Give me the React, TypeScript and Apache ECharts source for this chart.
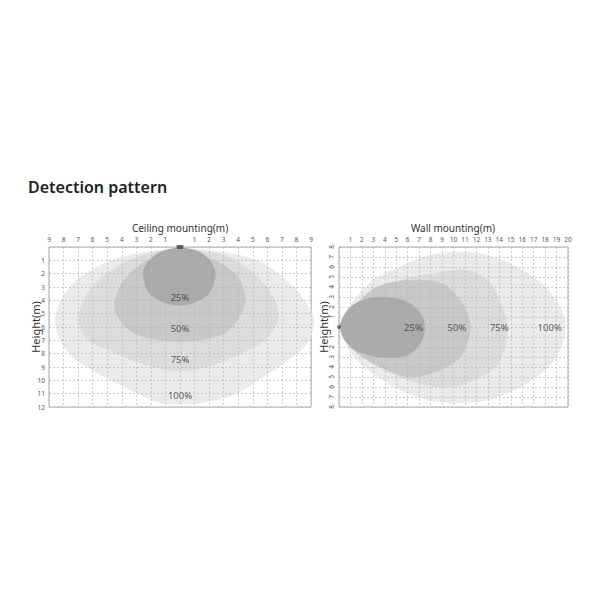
import React, { useEffect, useRef } from "react";
import * as echarts from "echarts";

// Ceiling mounting contours: [x (m), depth (m)]
const ceilingLevels = ["100%", "75%", "50%", "25%"];
const ceiling100: number[][] = [
  [0, 0.15], [2.5, 0.3], [5.5, 1.1], [7.8, 3.0], [9.0, 4.8], [9.2, 5.9], [8.7, 7.3],
  [7.3, 8.6], [5.5, 9.9], [3.7, 11.1], [1.5, 11.7], [0, 11.8], [-1.4, 11.7],
  [-2.9, 11.0], [-4.8, 10.0], [-6.4, 9.0], [-7.6, 8.0], [-8.4, 6.6], [-8.5, 4.9],
  [-7.6, 3.0], [-5.9, 1.6], [-3.5, 0.6],
];
const ceiling75: number[][] = [
  [0, 0.2], [1.8, 0.35], [3.7, 0.9], [5.9, 2.9], [6.8, 5.2], [5.9, 6.9], [4.4, 7.9],
  [2.2, 8.9], [0, 9.3], [-2.2, 8.9], [-4.6, 7.9], [-6.6, 6.7], [-6.9, 4.9],
  [-6.0, 2.9], [-3.7, 1.1], [-1.4, 0.3],
];
const ceiling50: number[][] = [
  [0, 0.3], [2.0, 0.8], [3.7, 1.9], [4.5, 3.7], [4.1, 5.2], [3.2, 6.4], [1.6, 6.95],
  [0, 7.1], [-1.6, 6.95], [-3.3, 6.4], [-4.3, 5.2], [-4.5, 4.1], [-3.8, 2.4],
  [-2.1, 0.9],
];
const ceiling25: number[][] = [
  [0, 0.05], [1.4, 0.4], [2.3, 1.4], [2.4, 2.4], [1.8, 3.7], [0, 4.4], [-1.9, 3.7],
  [-2.5, 2.4], [-2.4, 1.4], [-1.4, 0.4],
];
const ceilingLabelX = [0, 0, 0, 0];
const ceilingLabelY = [11.1, 8.4, 6.1, 3.8];

// Wall mounting contours: [distance (m), height (m)]
const wallLevels = ["100%", "75%", "50%", "25%"];
const wall100: number[][] = [
  [0.1, 0], [0.4, 1.2], [1.8, 3.4], [3.2, 4.9], [5.1, 5.9], [7.1, 6.9], [9.7, 7.5],
  [13.0, 7.2], [16.5, 5.4], [18.8, 3.0], [19.8, 0], [18.8, -3.3], [16.5, -5.6],
  [13.0, -7.3], [9.7, -7.6], [6.8, -7.0], [4.2, -5.6], [1.8, -3.6], [0.4, -1.3],
];
const wall75: number[][] = [
  [0.1, 0], [0.7, 1.4], [2.4, 3.0], [5.4, 4.7], [8.3, 5.4], [11.2, 5.7], [13.0, 4.7],
  [13.9, 3.0], [14.7, 0], [14.1, -3.3], [12.4, -5.0], [9.7, -6.0], [6.8, -5.6],
  [3.9, -4.3], [1.6, -2.6], [0.4, -1.0],
];
const wall50: number[][] = [
  [0.1, 0], [1.3, 2.0], [3.3, 4.0], [6.2, 4.7], [8.9, 4.4], [10.6, 2.7], [11.5, 0],
  [10.6, -3.0], [8.9, -4.3], [6.2, -5.0], [3.6, -4.0], [1.3, -2.3],
];
const wall25: number[][] = [
  [0.1, 0], [1.0, 2.0], [2.7, 2.9], [4.2, 3.0], [6.0, 2.5], [7.1, 1.4], [7.5, 0],
  [7.1, -1.7], [6.0, -2.8], [4.2, -3.1], [2.5, -2.8], [1.0, -2.0],
];
const wallLabelX = [18.4, 14.0, 10.3, 6.5];
const wallLabelY = [0, 0, 0, 0];

const ceilingContours = [ceiling100, ceiling75, ceiling50, ceiling25];
const wallContours = [wall100, wall75, wall50, wall25];
const fills = ["#ebebeb", "#dcdcdc", "#c8c8c8", "#aaaaaa"];

const FONT = "Noto Sans";

function contourSeries(contours: number[][][], axisIndex: number) {
  return contours.map((pts, i) => ({
    type: "custom",
    xAxisIndex: axisIndex,
    yAxisIndex: axisIndex,
    z: 2 + i * 0.01,
    silent: true,
    data: [[pts[0][0], pts[0][1]]],
    renderItem: (_params: any, api: any) => ({
      type: "polygon",
      shape: { points: pts.map((p) => api.coord(p)), smooth: 0.35 },
      style: { fill: fills[i], stroke: "none" },
    }),
  }));
}

export default function App() {
  const ref = useRef<HTMLDivElement>(null);
  useEffect(() => {
    if (!ref.current) return;
    const chart = echarts.init(ref.current, undefined, { renderer: "svg" });
    const splitLine = {
      show: true,
      lineStyle: { color: "#b5b5b5", type: [2, 2] as any, width: 0.7 },
    };
    const tickLabel = { fontSize: 6.5, color: "#555", fontFamily: FONT };
    const nameStyle = { fontSize: 11, color: "#333", fontFamily: FONT };
    const option: any = {
      animation: false,
      backgroundColor: "#fff",
      grid: [
        { left: 49, top: 247, width: 262, height: 160, show: true, borderColor: "#aaa", borderWidth: 1, backgroundColor: "transparent" },
        { left: 339, top: 247, width: 229, height: 160, show: true, borderColor: "#aaa", borderWidth: 1, backgroundColor: "transparent" },
      ],
      xAxis: [
        {
          type: "value", gridIndex: 0, position: "top", min: -9, max: 9, interval: 1, z: 5,
          axisLine: { show: false }, axisTick: { show: false }, splitLine,
          axisLabel: { ...tickLabel, margin: 4, formatter: (v: number) => (v === 0 ? "" : String(Math.abs(v))) },
        },
        {
          type: "value", gridIndex: 1, position: "top", min: 0, max: 20, interval: 1, z: 5,
          axisLine: { show: false }, axisTick: { show: false }, splitLine,
          axisLabel: { ...tickLabel, margin: 4, formatter: (v: number) => (v === 0 ? "" : String(v)) },
        },
      ],
      yAxis: [
        {
          type: "value", gridIndex: 0, inverse: true, min: 0, max: 12, interval: 1, z: 5,
          axisLine: { show: false }, axisTick: { show: false }, splitLine,
          axisLabel: { ...tickLabel, margin: 4, formatter: (v: number) => (v === 0 ? "" : String(v)) },
          name: "Height(m)", nameLocation: "middle", nameGap: 8, nameRotate: 90,
          nameMoveOverlap: false,
          nameTextStyle: nameStyle,
        },
        {
          type: "value", gridIndex: 1, min: -8, max: 8, interval: 1, z: 5,
          axisLine: { show: false }, axisTick: { show: false }, splitLine,
          axisLabel: { ...tickLabel, margin: 4, rotate: 90, formatter: (v: number) => (v === 0 ? "" : String(Math.abs(v))) },
          name: "Height(m)", nameLocation: "middle", nameGap: 10, nameRotate: 90,
          nameMoveOverlap: false,
          nameTextStyle: nameStyle,
        },
      ],
      graphic: [
        { type: "text", x: 28, y: 187, style: { text: "Detection pattern", font: `600 16px "${FONT}"`, fill: "#222", textVerticalAlign: "middle" } },
        { type: "text", x: 180, y: 228, style: { text: "Ceiling mounting(m)", font: `10px "${FONT}"`, fill: "#333", textAlign: "center", textVerticalAlign: "middle" } },
        { type: "text", x: 453, y: 228, style: { text: "Wall mounting(m)", font: `10px "${FONT}"`, fill: "#333", textAlign: "center", textVerticalAlign: "middle" } },
      ],
      series: [
        ...contourSeries(ceilingContours, 0),
        ...contourSeries(wallContours, 1),
        {
          type: "scatter", xAxisIndex: 0, yAxisIndex: 0, z: 10, symbolSize: 0, silent: true,
          data: ceilingLevels.map((n, i) => ({ value: [ceilingLabelX[i], ceilingLabelY[i]], name: n })),
          label: { show: true, position: "inside", formatter: (p: any) => p.name, fontSize: 9.5, color: "#333", fontFamily: FONT },
        },
        {
          type: "scatter", xAxisIndex: 1, yAxisIndex: 1, z: 10, symbolSize: 0, silent: true,
          data: wallLevels.map((n, i) => ({ value: [wallLabelX[i], wallLabelY[i]], name: n })),
          label: { show: true, position: "inside", formatter: (p: any) => p.name, fontSize: 9.5, color: "#333", fontFamily: FONT },
        },
        {
          type: "scatter", xAxisIndex: 0, yAxisIndex: 0, z: 10, silent: true,
          symbol: "roundRect", symbolSize: [7, 4], itemStyle: { color: "#444" },
          data: [[0, 0]], clip: false,
        },
        {
          type: "scatter", xAxisIndex: 1, yAxisIndex: 1, z: 10, silent: true,
          symbol: "circle", symbolSize: 4, itemStyle: { color: "#555" },
          data: [[0, 0]], clip: false,
        },
      ],
    };
    chart.setOption(option);
    return () => chart.dispose();
  }, []);
  return <div ref={ref} style={{ position: "fixed", left: 0, top: 0, width: 600, height: 600 }} />;
}
